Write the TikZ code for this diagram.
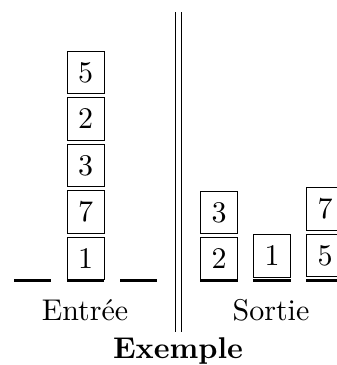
\documentclass[tikz,border=0pt]{standalone}
\usepackage{graphicx}
\newcommand{\tripled}[1]{\scalebox{3}{#1}}
\begin{document}
\begin{tikzpicture}[x=1pt,y=-1pt,
  card/.style={draw,line width=0.8pt,minimum width=37pt,minimum height=42.5pt,inner sep=0pt},
  base/.style={line width=2.5pt},
  label/.style={anchor=base,inner sep=0pt}]
\clip (0,0) rectangle (337,365);
\useasboundingbox (0,0) rectangle (337,365);

% input stack
\node[card] (i1) at (85.5,258.5) {\tripled{1}};
\node[card] (i7) at (85.5,212) {\tripled{7}};
\node[card] (i3) at (85.5,165.5) {\tripled{3}};
\node[card] (i2) at (85.5,119) {\tripled{2}};
\node[card] (i5) at (85.5,72.5) {\tripled{5}};

% input floor
\coordinate (la) at (14,280.5);  \coordinate (lb) at (51,280.5);
\coordinate (ma) at (67,280.5);  \coordinate (mb) at (104,280.5);
\coordinate (ra) at (120,280.5); \coordinate (rb) at (157,280.5);
\draw[base] (la) -- (lb);
\draw[base] (ma) -- (mb);
\draw[base] (ra) -- (rb);

% separator
\coordinate (s1t) at (175.5,12); \coordinate (s1b) at (175.5,332);
\coordinate (s2t) at (181.5,12); \coordinate (s2b) at (181.5,332);
\draw[line width=1.2pt] (s1t) -- (s1b);
\draw[line width=1.2pt] (s2t) -- (s2b);

% output stacks
\node[card] (o2) at (219,258.5) {\tripled{2}};
\node[card] (o3) at (219,212.5) {\tripled{3}};
\node[card] (o1) at (272,256) {\tripled{1}};
\node[card] (o5) at (325,255.5) {\tripled{5}};
\node[card] (o7) at (325,209) {\tripled{7}};

% output floor
\coordinate (pa) at (200,280.5); \coordinate (pb) at (238,280.5);
\coordinate (qa) at (253,280.5); \coordinate (qb) at (291,280.5);
\coordinate (ta) at (306,280.5); \coordinate (tb) at (344,280.5);
\draw[base] (pa) -- (pb);
\draw[base] (qa) -- (qb);
\draw[base] (ta) -- (tb);

% captions
\node[label] (in) at (85,320) {\tripled{Entrée}};
\node[label] (out) at (271,320) {\tripled{Sortie}};
\node[label] (ex) at (178,358) {\tripled{\bfseries Exemple}};
\end{tikzpicture}
\end{document}
